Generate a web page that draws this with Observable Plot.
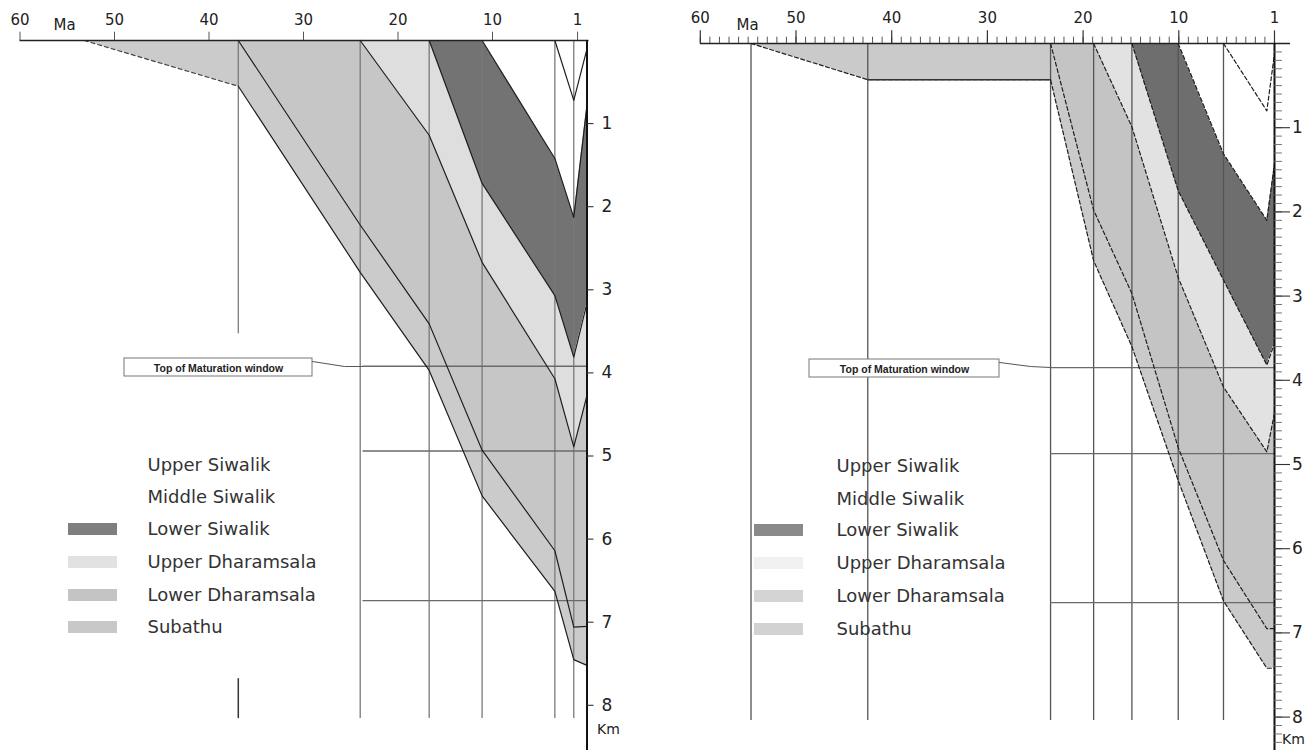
<!DOCTYPE html>
<html><head><meta charset="utf-8">
<script src="https://cdn.jsdelivr.net/npm/d3@7"></script>
<script src="https://cdn.jsdelivr.net/npm/@observablehq/plot@0.6"></script>
<style>
html,body{margin:0;padding:0;background:#fff}
body{width:1314px;height:750px;position:relative;overflow:hidden;font-family:"DejaVu Sans",sans-serif}
.panel{position:absolute;top:0}
</style></head><body>
<div id="left" class="panel" style="left:0"></div>
<div id="right" class="panel" style="left:660px"></div>
<script>
// ---------- shared labels ----------
const formations = ["Upper Siwalik","Middle Siwalik","Lower Siwalik","Upper Dharamsala","Lower Dharamsala","Subathu"];
const ageTickLabels = ["60","50","40","30","20","10","1"];
const ageTicksLeft = [60,50,40,30,20,10,1];
const ageTicksRight = [60,50,40,30,20,10,0];
const depthTicks = [1,2,3,4,5,6,7,8];
const depthTickLabels = ["1","2","3","4","5","6","7","8"];
const ageUnit = "Ma";
const depthUnit = "Km";
const calloutText = "Top of Maturation window";

// ---------- left well: ages (Ma) and depth (km) of base of each formation ----------
const leftTimes = [53.2, 36.9, 24, 16.7, 11.1, 3.4, 1.4, 0];
const leftBaseUpperSiwalik    = [null,null,null,null,null,0,0.72,0.10];
const leftBaseMiddleSiwalik   = [null,null,null,null,0,1.42,2.13,0.78];
const leftBaseLowerSiwalik    = [null,null,null,0,1.72,3.07,3.81,3.16];
const leftBaseUpperDharamsala = [null,null,0,1.14,2.67,4.07,4.89,4.27];
const leftBaseLowerDharamsala = [null,0,2.22,3.41,4.93,6.14,7.06,7.05];
const leftBaseSubathu         = [0,0.55,2.79,3.97,5.48,6.63,7.45,7.52];
const leftTimeLines = [24, 16.7, 11.1, 3.4, 1.4];
const leftBrokenTimeLine = [36.9];
const leftLevelLines = [3.92, 4.94, 6.74];

// ---------- right well ----------
const rightTimes = [54.7, 42.5, 23.4, 18.9, 14.9, 10.06, 5.33, 0.8, 0];
const rightBaseUpperSiwalik    = [null,null,null,null,null,null,0,0.80,0.12];
const rightBaseMiddleSiwalik   = [null,null,null,null,null,0,1.31,2.10,1.43];
const rightBaseLowerSiwalik    = [null,null,null,null,0,1.75,2.81,3.82,3.56];
const rightBaseUpperDharamsala = [null,null,null,0,0.99,2.78,4.08,4.85,4.39];
const rightBaseLowerDharamsala = [null,null,0,1.98,2.97,4.80,6.14,6.95,6.95];
const rightBaseSubathu         = [0,0.43,0.43,2.58,3.60,5.19,6.62,7.42,7.42];
const rightTimeLines = [54.7, 42.5, 23.4, 18.9, 14.9, 10.06, 5.33];
const rightLevelLines = [3.85, 4.87, 6.64];

// ---------- helpers ----------
function buildLayers(times, bases) {
  const rows = [];
  formations.forEach((name, k) => {
    const bot = bases[k], top = k === 0 ? null : bases[k - 1];
    times.forEach((t, i) => {
      if (bot[i] == null) return;
      rows.push({layer: name, t, top: top && top[i] != null ? top[i] : 0, bot: bot[i]});
    });
  });
  return rows;
}
function buildHorizons(times, bases) {
  const rows = [];
  formations.forEach((name, k) => {
    times.forEach((t, i) => { if (bases[k][i] != null) rows.push({h: name, t, d: bases[k][i]}); });
  });
  return rows;
}

function makePanel(o) {
  const {G, times, bases, fills, swatches, timeLines, levelLines, levelFrom, ageTicks, dash, lineColor, minorTicks} = o;
  const px2ma = px => (G.x0 - px) / G.xs;   // panel-local pixel -> Ma
  const py2km = py => (py - G.y0) / G.ys;   // pixel -> km
  const layers = buildLayers(times, bases);
  const horizons = buildHorizons(times, bases);
  const marks = [];
  // formation fills
  formations.forEach(name => {
    if (!fills[name]) return;
    marks.push(Plot.areaY(layers.filter(d => d.layer === name), {x: "t", y1: "top", y2: "bot", fill: fills[name], curve: "linear"}));
  });
  // time lines
  marks.push(Plot.ruleX(timeLines, {y1: 0, y2: G.lineBottom, stroke: G.timeStroke, strokeWidth: 1.3}));
  if (o.brokenLine) {
    marks.push(Plot.ruleX(o.brokenLine, {y1: 0, y2: 3.53, stroke: G.timeStroke, strokeWidth: 1.3}));
    marks.push(Plot.ruleX(o.brokenLine, {y1: 7.68, y2: G.lineBottom, stroke: "#333", strokeWidth: 1.5}));
  }
  // level lines
  marks.push(Plot.ruleY(levelLines, {x1: levelFrom, x2: 0, stroke: "#6a6a6a", strokeWidth: 1.3}));
  // horizon lines
  if (o.firstDashed) {
    const first = horizons.filter(d => d.h === "Subathu" && d.t >= times[1]);
    const rest = horizons.filter(d => !(d.h === "Subathu" && d.t > times[1]));
    marks.push(Plot.line(first, {x: "t", y: "d", stroke: "#444", strokeWidth: 1.2, strokeDasharray: "4,3"}));
    marks.push(Plot.line(rest, {x: "t", y: "d", z: "h", stroke: lineColor, strokeWidth: 1.2}));
  } else {
    marks.push(Plot.line(horizons, {x: "t", y: "d", z: "h", stroke: lineColor, strokeWidth: 1.2, strokeDasharray: dash}));
  }
  if (o.solidFlat) {
    const sub = bases[bases.length - 1];
    const flat = [1, 2].map(i => ({t: times[i], d: sub[i]}));
    marks.push(Plot.line(flat, {x: "t", y: "d", stroke: "#333", strokeWidth: 1.4}));
  }
  // top axis
  marks.push(Plot.ruleY([0], {x1: 60, x2: px2ma(G.x0 + G.axisExtra), stroke: "#222", strokeWidth: 1.6}));
  if (minorTicks) {
    marks.push(Plot.ruleX(d3.range(1, 61), {y1: 0, y2: -0.075, stroke: "#555", strokeWidth: 1}));
    marks.push(Plot.ruleX(d3.range(0, 61, 10), {y1: 0, y2: -0.15, stroke: "#333", strokeWidth: 1.2}));
  } else {
    marks.push(Plot.ruleX(ageTicks, {y1: 0, y2: -0.1, stroke: "#555", strokeWidth: 1}));
  }
  marks.push(Plot.text(ageTicks, {x: d => d, y: py2km(G.tickLabelY), text: (d, i) => ageTickLabels[i], fontSize: 15, fill: "#222"}));
  marks.push(Plot.text([ageUnit], {x: px2ma(G.maX), y: py2km(G.maY), text: d => d, fontSize: 15, fill: "#222"}));
  // right (depth) axis
  marks.push(Plot.ruleX([0], {y1: 0, y2: py2km(750), stroke: "#111", strokeWidth: 2}));
  if (minorTicks) {
    marks.push(Plot.ruleY(d3.range(1, 84).map(d => d / 10), {x1: 0, x2: px2ma(G.x0 + 8), stroke: "#666", strokeWidth: 0.9}));
  }
  marks.push(Plot.ruleY(depthTicks, {x1: 0, x2: px2ma(G.x0 + G.majorLen), stroke: "#333", strokeWidth: 1.1}));
  marks.push(Plot.text(depthTicks, {x: px2ma(G.x0 + G.depthLabelDx), y: d => d, text: (d, i) => depthTickLabels[i], fontSize: 17, fill: "#222"}));
  marks.push(Plot.text([depthUnit], {x: px2ma(G.kmX), y: py2km(G.kmY), text: d => d, fontSize: 14, fill: "#222"}));
  // callout
  const c = G.callout;
  marks.push(Plot.rect([calloutText], {x1: px2ma(c.x1), x2: px2ma(c.x2), y1: py2km(c.y1), y2: py2km(c.y2), fill: "#fff", stroke: "#777", strokeWidth: 1}));
  marks.push(Plot.line(c.conn.map(([a, b]) => ({t: px2ma(a), d: py2km(b)})), {x: "t", y: "d", stroke: "#555", strokeWidth: 1}));
  marks.push(Plot.text([calloutText], {x: px2ma((c.x1 + c.x2) / 2), y: py2km((c.y1 + c.y2) / 2 + 1), text: d => d, fontSize: 10.5, fontWeight: "bold", fill: "#222", fontFamily: "Liberation Sans, Arial, sans-serif"}));
  // legend
  const lg = G.legend;
  const legendRows = formations.map((name, i) => ({name, y: py2km(lg.rows[i])}));
  marks.push(Plot.rect(legendRows.filter(d => swatches[d.name]), {x1: px2ma(lg.sx1), x2: px2ma(lg.sx2), y1: d => d.y - 6 / G.ys, y2: d => d.y + 6 / G.ys, fill: d => swatches[d.name]}));
  marks.push(Plot.text(legendRows, {x: px2ma(lg.tx), y: "y", text: "name", textAnchor: "start", fontSize: 18, fill: "#333", letterSpacing: 0.5}));

  return Plot.plot({
    width: G.width, height: 750,
    x: {domain: [60, 0], range: [G.x0 - 60 * G.xs, G.x0], axis: null},
    y: {domain: [0, 8.5], range: [G.y0, G.y0 + 8.5 * G.ys], axis: null},
    color: {type: "identity"},
    style: {fontFamily: "DejaVu Sans, sans-serif", background: "transparent", overflow: "visible"},
    marks
  });
}

// ---------- left panel ----------
const leftBases = [leftBaseUpperSiwalik, leftBaseMiddleSiwalik, leftBaseLowerSiwalik, leftBaseUpperDharamsala, leftBaseLowerDharamsala, leftBaseSubathu];
document.getElementById("left").appendChild(makePanel({
  G: {width: 640, x0: 586.5, xs: 9.45, y0: 40, ys: 83.1, lineBottom: 8.16, timeStroke: "#7a7a7a", axisExtra: 2,
      tickLabelY: 20, maX: 64, maY: 25, majorLen: 7, depthLabelDx: 20, kmX: 608, kmY: 729,
      callout: {x1: 124, x2: 312, y1: 358, y2: 376, conn: [[312, 361], [344, 366], [362, 366]]},
      legend: {sx1: 68, sx2: 117, tx: 147, rows: [465, 497, 529, 562, 595, 627]}},
  times: leftTimes, bases: leftBases,
  fills: {"Lower Siwalik": "#737373", "Upper Dharamsala": "#dedede", "Lower Dharamsala": "#c6c6c6", "Subathu": "#cbcbcb"},
  swatches: {"Lower Siwalik": "#7f7f7f", "Upper Dharamsala": "#e2e2e2", "Lower Dharamsala": "#c4c4c4", "Subathu": "#c8c8c8"},
  timeLines: leftTimeLines, brokenLine: leftBrokenTimeLine, levelLines: leftLevelLines, levelFrom: 23.7,
  ageTicks: ageTicksLeft, lineColor: "#1e1e1e", firstDashed: true, minorTicks: false
}));

// ---------- right panel ----------
const rightBases = [rightBaseUpperSiwalik, rightBaseMiddleSiwalik, rightBaseLowerSiwalik, rightBaseUpperDharamsala, rightBaseLowerDharamsala, rightBaseSubathu];
document.getElementById("right").appendChild(makePanel({
  G: {width: 654, x0: 614, xs: 9.57, y0: 43, ys: 84.2, lineBottom: 8.04, timeStroke: "#555", axisExtra: 16,
      tickLabelY: 18, maX: 87, maY: 25, majorLen: 16, depthLabelDx: 23, kmX: 633, kmY: 739,
      callout: {x1: 149, x2: 339, y1: 359, y2: 377, conn: [[339, 362], [370, 366], [390, 367]]},
      legend: {sx1: 94, sx2: 143, tx: 176, rows: [466, 499, 530, 563, 596, 629]}},
  times: rightTimes, bases: rightBases,
  fills: {"Lower Siwalik": "#6e6e6e", "Upper Dharamsala": "#e2e2e2", "Lower Dharamsala": "#c4c4c4", "Subathu": "#cacaca"},
  swatches: {"Lower Siwalik": "#8a8a8a", "Upper Dharamsala": "#f0f0f0", "Lower Dharamsala": "#d4d4d4", "Subathu": "#d2d2d2"},
  timeLines: rightTimeLines, levelLines: rightLevelLines, levelFrom: 23.4,
  ageTicks: ageTicksRight, lineColor: "#1e1e1e", dash: "4,2.5", minorTicks: true, solidFlat: true
}));
</script>
</body></html>
